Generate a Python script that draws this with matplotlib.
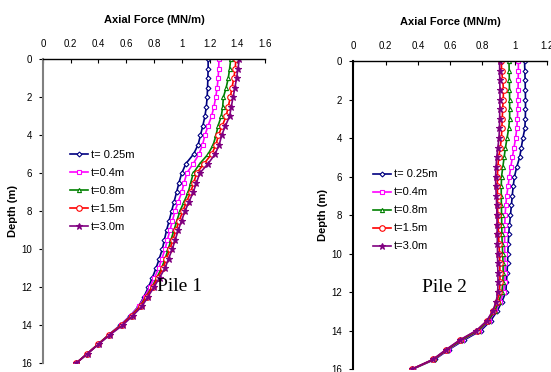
import matplotlib
matplotlib.use("Agg")
import matplotlib.pyplot as plt
import numpy as np

plt.rcParams['font.family'] = ['Liberation Sans', 'DejaVu Sans']

# depth (m), every 0.5 m from 0 to 16
depth = [0.0, 0.5, 1.0, 1.5, 2.0, 2.5, 3.0, 3.5, 4.0, 4.5, 5.0, 5.5, 6.0, 6.5, 7.0, 7.5,
         8.0, 8.5, 9.0, 9.5, 10.0, 10.5, 11.0, 11.5, 12.0, 12.5, 13.0, 13.5, 14.0, 14.5,
         15.0, 15.5, 16.0]

labels = ["t= 0.25m", "t=0.4m", "t=0.8m", "t=1.5m", "t=3.0m"]

# Pile 1 axial force (MN/m)
p1_t025 = [1.19, 1.19, 1.188, 1.186, 1.183, 1.177, 1.167, 1.152, 1.135, 1.118, 1.085, 1.03,
           1.0, 0.98, 0.963, 0.945, 0.927, 0.909, 0.891, 0.875, 0.86, 0.838, 0.815, 0.788,
           0.76, 0.728, 0.69, 0.63, 0.558, 0.475, 0.398, 0.32, 0.24]
p1_t04 = [1.268, 1.266, 1.262, 1.255, 1.245, 1.232, 1.215, 1.19, 1.167, 1.15, 1.124, 1.083,
          1.036, 1.017, 1.0, 0.975, 0.951, 0.933, 0.915, 0.897, 0.88, 0.857, 0.835, 0.803,
          0.77, 0.733, 0.693, 0.632, 0.56, 0.476, 0.398, 0.32, 0.24]
p1_t08 = [1.353, 1.345, 1.335, 1.32, 1.30, 1.295, 1.285, 1.262, 1.247, 1.227, 1.19, 1.13,
          1.083, 1.065, 1.047, 1.017, 0.987, 0.965, 0.944, 0.923, 0.903, 0.88, 0.855, 0.82,
          0.785, 0.742, 0.70, 0.638, 0.565, 0.478, 0.398, 0.32, 0.24]
p1_t15 = [1.39, 1.385, 1.375, 1.362, 1.35, 1.335, 1.32, 1.292, 1.264, 1.247, 1.216, 1.16,
          1.108, 1.086, 1.064, 1.035, 1.007, 0.982, 0.958, 0.936, 0.915, 0.89, 0.865, 0.828,
          0.79, 0.747, 0.705, 0.64, 0.567, 0.479, 0.40, 0.32, 0.24]
p1_t30 = [1.415, 1.405, 1.395, 1.383, 1.37, 1.357, 1.345, 1.315, 1.288, 1.27, 1.24, 1.19,
          1.13, 1.106, 1.083, 1.053, 1.023, 0.999, 0.975, 0.953, 0.932, 0.905, 0.88, 0.84,
          0.80, 0.757, 0.715, 0.648, 0.575, 0.485, 0.402, 0.322, 0.24]

# Pile 2 axial force (MN/m)
p2_t025 = [1.06, 1.062, 1.064, 1.065, 1.066, 1.066, 1.065, 1.062, 1.05, 1.04, 1.03, 1.012,
           0.998, 0.99, 0.984, 0.979, 0.973, 0.967, 0.962, 0.959, 0.957, 0.955, 0.952, 0.948,
           0.945, 0.92, 0.89, 0.85, 0.79, 0.685, 0.59, 0.505, 0.37]
p2_t04 = [1.022, 1.022, 1.021, 1.02, 1.019, 1.018, 1.016, 1.012, 1.005, 0.995, 0.985, 0.975,
          0.966, 0.958, 0.95, 0.944, 0.94, 0.938, 0.937, 0.937, 0.938, 0.94, 0.94, 0.938,
          0.93, 0.91, 0.88, 0.84, 0.78, 0.675, 0.585, 0.50, 0.368]
p2_t08 = [0.964, 0.965, 0.966, 0.967, 0.968, 0.968, 0.968, 0.962, 0.952, 0.942, 0.934, 0.926,
          0.918, 0.916, 0.916, 0.917, 0.918, 0.919, 0.92, 0.922, 0.925, 0.927, 0.928, 0.926,
          0.92, 0.90, 0.875, 0.835, 0.775, 0.67, 0.58, 0.498, 0.366]
p2_t15 = [0.917, 0.918, 0.925, 0.93, 0.928, 0.925, 0.922, 0.92, 0.917, 0.91, 0.90, 0.895,
          0.892, 0.892, 0.893, 0.893, 0.895, 0.897, 0.899, 0.902, 0.905, 0.907, 0.908, 0.908,
          0.905, 0.89, 0.865, 0.828, 0.765, 0.66, 0.575, 0.495, 0.365]
p2_t30 = [0.906, 0.906, 0.907, 0.908, 0.908, 0.907, 0.906, 0.905, 0.902, 0.895, 0.888, 0.884,
          0.881, 0.882, 0.885, 0.888, 0.889, 0.89, 0.891, 0.892, 0.893, 0.894, 0.895, 0.896,
          0.894, 0.885, 0.862, 0.826, 0.762, 0.658, 0.573, 0.493, 0.364]

colors = ['#000080', '#ff00ff', '#008000', '#ff0000', '#800080']
markers = ['D', 's', '^', 'o', '*']
msizes = [2.5, 3, 3, 4, 4.5]
faces = ['white', 'white', 'white', 'white', '#800080']


def draw(ax, series, xmax, pile, leg_xy, pile_xy, spine_col):
    for i, vals in enumerate(series):
        ax.plot(vals, depth, color=colors[i], marker=markers[i], markersize=msizes[i],
                markerfacecolor=faces[i], markeredgecolor=colors[i], markeredgewidth=0.8,
                linewidth=1.2, label=labels[i])
    ticks = np.arange(0, xmax + 0.01, 0.2)
    ax.set_xlim(0, xmax)
    ax.set_ylim(16, 0)
    ax.set_xticks(ticks)
    ax.set_xticklabels(['%g' % round(v, 1) for v in ticks])
    ax.set_yticks(range(0, 17, 2))
    ax.xaxis.tick_top()
    ax.xaxis.set_label_position('top')
    ax.tick_params(axis='x', direction='in', length=3, width=0.8, pad=7, labelsize=7)
    ax.tick_params(axis='y', direction='out', length=3, width=0.8, pad=5, labelsize=7)
    for s in ['right', 'bottom']:
        ax.spines[s].set_visible(False)
    ax.spines['top'].set_color('black')
    ax.spines['top'].set_linewidth(1.0)
    ax.spines['left'].set_color(spine_col)
    ax.spines['left'].set_linewidth(1.5)
    ax.set_xlabel("Axial Force (MN/m)", fontsize=8, fontweight='bold', labelpad=12)
    ax.set_ylabel("Depth (m)", fontsize=8, fontweight='bold', labelpad=2)
    ax.legend(loc='upper left', bbox_to_anchor=leg_xy, frameon=False, fontsize=8,
              handlelength=1.6, handletextpad=0.3, labelspacing=0.72,
              borderpad=0, borderaxespad=0)
    ax.text(pile_xy[0], pile_xy[1], pile, transform=ax.transAxes, fontsize=14,
            family=['Liberation Serif', 'DejaVu Serif'], ha='center', va='center')


def main():
    fig = plt.figure(figsize=(5.51, 3.72), dpi=100)
    ax1 = fig.add_axes([0.078, 0.024, 0.403, 0.817])
    ax2 = fig.add_axes([0.641, 0.008, 0.352, 0.828])

    draw(ax1, [p1_t025, p1_t04, p1_t08, p1_t15, p1_t30], 1.6, "Pile 1",
         (0.122, 0.702), (0.617, 0.253), '#808080')
    draw(ax2, [p2_t025, p2_t04, p2_t08, p2_t15, p2_t30], 1.2, "Pile 2",
         (0.103, 0.648), (0.469, 0.266), 'black')

    fig.savefig("out.png", dpi=100)


if __name__ == "__main__":
    main()
